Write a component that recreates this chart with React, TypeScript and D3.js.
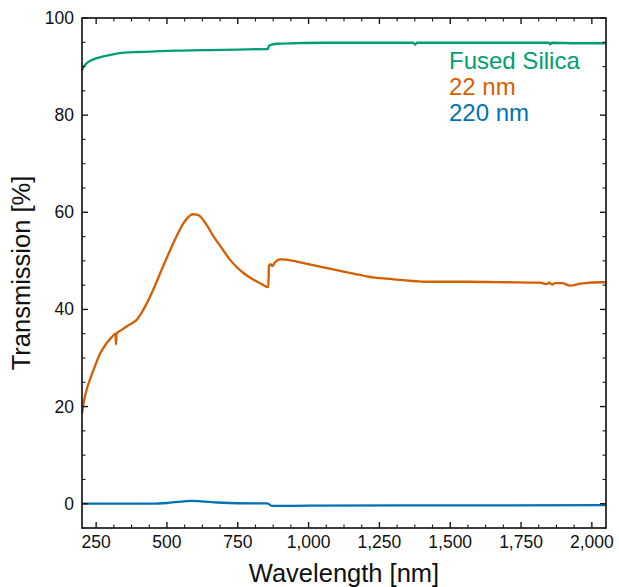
import React from "react";
import * as d3 from "d3";

const silicaWl = [200, 205, 215, 230, 250, 275, 300, 340, 400, 475, 550, 650, 750, 850, 856, 860, 870, 890, 950, 1050, 1200, 1370, 1376, 1382, 1500, 1700, 1848, 1853, 1858, 1950, 2050];
const silicaT = [89.2, 89.9, 90.6, 91.2, 91.7, 92.1, 92.4, 92.8, 93.0, 93.2, 93.3, 93.4, 93.5, 93.6, 93.6, 94.3, 94.5, 94.7, 94.8, 94.9, 94.9, 94.9, 94.5, 94.9, 94.9, 94.9, 94.9, 94.6, 94.9, 94.8, 94.8];

const nm22Wl = [200, 205, 210, 220, 230, 245, 263, 285, 305, 318, 320, 322, 340, 360, 381, 395, 410, 430, 451, 480, 512, 540, 559, 575, 590, 605, 618, 640, 665, 695, 723, 750, 770, 800, 829, 858, 860, 866, 872, 880, 900, 947, 970, 1065, 1182, 1205, 1300, 1380, 1405, 1558, 1700, 1817, 1840, 1850, 1860, 1870, 1895, 1923, 1960, 2041, 2050];
const nm22T = [18.5, 20.5, 22.0, 24.2, 25.9, 28.2, 30.8, 32.9, 34.3, 35.0, 32.8, 35.0, 35.8, 36.6, 37.3, 38.0, 39.3, 41.4, 44.0, 48.0, 52.3, 55.8, 57.8, 59.0, 59.6, 59.5, 59.1, 57.4, 55.0, 52.5, 50.2, 48.5, 47.5, 46.3, 45.4, 44.6, 49.0, 49.3, 48.9, 49.6, 50.3, 50.0, 49.7, 48.5, 47.1, 46.8, 46.2, 45.8, 45.7, 45.7, 45.6, 45.5, 45.2, 45.5, 45.1, 45.4, 45.4, 44.9, 45.3, 45.6, 45.6];

const nm220Wl = [200, 450, 500, 550, 585, 620, 680, 750, 855, 870, 1000, 1500, 2050];
const nm220T = [0, 0, 0.15, 0.45, 0.6, 0.5, 0.25, 0.1, 0.05, -0.45, -0.4, -0.35, -0.3];

const seriesNames = ["Fused Silica", "22 nm", "220 nm"];
const seriesColors = ["#009E73", "#D55E00", "#0072B2"];

const xMajor = [250, 500, 750, 1000, 1250, 1500, 1750, 2000];
const yMajor = [0, 20, 40, 60, 80, 100];

const W = 619, H = 587;
const L = 82, R = 606, T = 18, B = 528;
const FONT = "'Liberation Sans', Arial, sans-serif";

export default function App() {
  const x = d3.scaleLinear().domain([200, 2050]).range([L, R]);
  const y = d3.scaleLinear().domain([-5, 100]).range([B, T]);
  const line = d3.line<[number, number]>().x(d => x(d[0])).y(d => y(d[1])).curve(d3.curveMonotoneX);

  const series = [
    silicaWl.map((w, i) => [w, silicaT[i]] as [number, number]),
    nm22Wl.map((w, i) => [w, nm22T[i]] as [number, number]),
    nm220Wl.map((w, i) => [w, nm220T[i]] as [number, number]),
  ];

  const xMinor = d3.range(250, 2051, 62.5).filter(v => !xMajor.includes(v));
  const yMinor = d3.range(-5, 101, 5).filter(v => !yMajor.includes(v));
  const maj = 6, min = 3.5;
  const tickColor = "#1a1a1a";

  return (
    <svg width={W} height={H} style={{ position: "fixed", left: 0, top: 0 }}>
      <rect x={0} y={0} width={W} height={H} fill="white" />
      {series.slice().reverse().map((s, i) => {
        const idx = 2 - i;
        return <path key={idx} d={line(s) || ""} fill="none" stroke={seriesColors[idx]} strokeWidth={2.3} strokeLinejoin="round" />;
      })}
      {xMajor.map(v => (
        <g key={"xM" + v}>
          <line x1={x(v)} x2={x(v)} y1={B} y2={B - maj} stroke={tickColor} strokeWidth={1.4} />
          <line x1={x(v)} x2={x(v)} y1={T} y2={T + maj} stroke={tickColor} strokeWidth={1.4} />
          <text x={x(v)} y={548} textAnchor="middle" fontFamily={FONT} fontSize={17.5} fill="#111">{d3.format(",")(v)}</text>
        </g>
      ))}
      {xMinor.map(v => (
        <g key={"xm" + v}>
          <line x1={x(v)} x2={x(v)} y1={B} y2={B - min} stroke={tickColor} strokeWidth={1.1} />
          <line x1={x(v)} x2={x(v)} y1={T} y2={T + min} stroke={tickColor} strokeWidth={1.1} />
        </g>
      ))}
      {yMajor.map(v => (
        <g key={"yM" + v}>
          <line x1={L} x2={L + maj} y1={y(v)} y2={y(v)} stroke={tickColor} strokeWidth={1.4} />
          <line x1={R} x2={R - maj} y1={y(v)} y2={y(v)} stroke={tickColor} strokeWidth={1.4} />
          <text x={74} y={y(v) + 6} textAnchor="end" fontFamily={FONT} fontSize={17.5} fill="#111">{v}</text>
        </g>
      ))}
      {yMinor.map(v => (
        <g key={"ym" + v}>
          <line x1={L} x2={L + min} y1={y(v)} y2={y(v)} stroke={tickColor} strokeWidth={1.1} />
          <line x1={R} x2={R - min} y1={y(v)} y2={y(v)} stroke={tickColor} strokeWidth={1.1} />
        </g>
      ))}
      <rect x={L} y={T} width={R - L} height={B - T} fill="none" stroke={tickColor} strokeWidth={1.7} />
      <text x={344} y={582} textAnchor="middle" fontFamily={FONT} fontSize={25.5} fill="#111">Wavelength [nm]</text>
      <text transform={`translate(30, 273) rotate(-90)`} textAnchor="middle" fontFamily={FONT} fontSize={25.5} fill="#111">Transmission [%]</text>
      {seriesNames.map((n, i) => (
        <text key={n} x={449} y={69 + i * 26} fontFamily={FONT} fontSize={24} fill={seriesColors[i]}>{n}</text>
      ))}
    </svg>
  );
}
